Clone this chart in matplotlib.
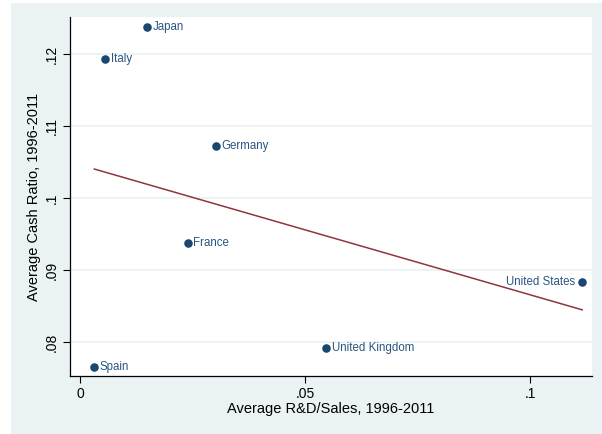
import numpy as np
import matplotlib.pyplot as plt
from matplotlib.patches import Rectangle

plt.rcParams['font.family'] = ['Liberation Sans', 'DejaVu Sans']

countries = ["Japan", "Italy", "Germany", "France", "Spain", "United Kingdom", "United States"]
rd_sales = [0.0149, 0.0056, 0.0302, 0.0239, 0.0032, 0.0547, 0.1116]
cash_ratio = [0.1238, 0.1194, 0.1072, 0.0938, 0.0765, 0.0792, 0.0884]

x_ticks = [0, 0.05, 0.1]
x_ticklabels = ["0", ".05", ".1"]
y_ticks = [0.08, 0.09, 0.10, 0.11, 0.12]
y_ticklabels = [".08", ".09", ".1", ".11", ".12"]

navy = "#1a476f"
maroon = "#90353b"
panel = "#eaf2f3"

fig = plt.figure(figsize=(6.02, 4.34), dpi=100)
fig.patch.set_facecolor("white")
fig.add_artist(Rectangle((11 / 602, 0), 1, 1 - 3 / 434, transform=fig.transFigure,
                         facecolor=panel, edgecolor="none", zorder=-5))

ax = fig.add_axes([70 / 602, 1 - 376 / 434, 522 / 602, 359 / 434])
ax.set_zorder(2)
ax.set_facecolor("white")

# linear fit over the observed range
xs = np.array(rd_sales)
ys = np.array(cash_ratio)
b, a = np.polyfit(xs, ys, 1)
xl = np.array([xs.min(), xs.max()])
ax.plot(xl, a + b * xl, color=maroon, lw=1.1, zorder=3)

ax.scatter(rd_sales, cash_ratio, s=38, color=navy, zorder=4, linewidths=0)
for name, x, y in zip(countries, rd_sales, cash_ratio):
    if name == "United States":
        ax.annotate(name, (x, y), xytext=(-5, 0), textcoords="offset points",
                    ha="right", va="center", fontsize=8.3, color="#2a5580")
    else:
        ax.annotate(name, (x, y), xytext=(4, 0), textcoords="offset points",
                    ha="left", va="center", fontsize=8.3, color="#2a5580")

ax.set_xlim(-0.00222, 0.11378)
ax.set_ylim(0.07528, 0.12518)
ax.set_xticks(x_ticks, x_ticklabels)
ax.set_yticks(y_ticks, y_ticklabels)
for lab in ax.get_yticklabels():
    lab.set_rotation(90)
    lab.set_va("center")
ax.tick_params(labelsize=10, length=5, width=0.8, color="black", pad=3)
ax.yaxis.grid(True, color=panel, lw=1.3)
ax.set_axisbelow(True)

for side in ["top", "right"]:
    ax.spines[side].set_visible(False)
for side in ["left", "bottom"]:
    ax.spines[side].set_linewidth(0.9)

ax.set_xlabel("Average R&D/Sales, 1996-2011", fontsize=10.5, labelpad=1)
ax.set_ylabel("Average Cash Ratio, 1996-2011", fontsize=10.5, labelpad=3)

fig.savefig("out.png", dpi=100)
